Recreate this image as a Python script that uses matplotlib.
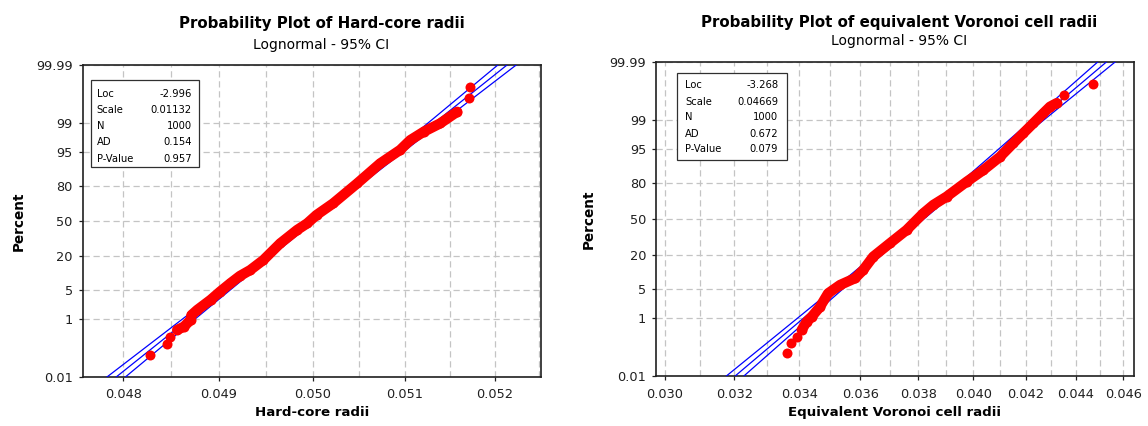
import math
import numpy as np
import matplotlib
matplotlib.use('Agg')
import matplotlib.pyplot as plt
from matplotlib.patches import Rectangle
from matplotlib.ticker import FixedLocator, FixedFormatter, NullFormatter, NullLocator

# Percent axis (normal probability scale)
percent_ticks = [0.01, 1, 5, 20, 50, 80, 95, 99, 99.99]
percent_labels = ['0.01', '1', '5', '20', '50', '80', '95', '99', '99.99']

# Hard-core radii: points (radius, cumulative percent)
hc_percent = [0.07, 0.17, 0.29, 0.47, 0.59, 0.91, 1.25, 1.7, 3.0, 4.6, 6.9, 9.5, 12.1,
              17.6, 29.7, 41.5, 47.8, 55.7, 66.3, 81.5, 91.5, 95.5, 97.3, 98.34, 99.0,
              99.54, 99.83, 99.93]
hc_radius = [0.04828, 0.04845, 0.04849, 0.04856, 0.04863, 0.04870, 0.04871, 0.04877,
             0.04891, 0.04901, 0.04912, 0.04922, 0.04933, 0.04947, 0.04965, 0.04983,
             0.04994, 0.05004, 0.05022, 0.05048, 0.05073, 0.05095, 0.05106, 0.05121,
             0.05139, 0.05158, 0.05171, 0.05172]
hc_xticks = [0.048, 0.049, 0.050, 0.051, 0.052]
hc_xgrid = [0.048, 0.0485, 0.049, 0.0495, 0.050, 0.0505, 0.051, 0.0515, 0.052, 0.0525]
hc_xlim = (0.04758, 0.05252)
hc_loc, hc_scale, hc_n = -2.996, 0.01132, 1000
hc_stat_names = ['Loc', 'Scale', 'N', 'AD', 'P-Value']
hc_stat_values = ['-2.996', '0.01132', '1000', '0.154', '0.957']

# Equivalent Voronoi cell radii
vor_percent = [0.076, 0.174, 0.27, 0.44, 0.77, 1.05, 1.92, 3.96, 5.96, 8.1, 11.4, 18.7,
               28.3, 39.7, 55.3, 63.0, 70.1, 81.1, 87.6, 92.9, 96.3, 97.85, 98.8, 99.37,
               99.6, 99.69, 99.83, 99.93]
vor_radius = [0.03361, 0.03374, 0.03394, 0.03408, 0.03424, 0.03440, 0.03467, 0.03493,
              0.03532, 0.03582, 0.03609, 0.03643, 0.03700, 0.03758, 0.03817, 0.03853,
              0.03901, 0.03975, 0.04037, 0.04100, 0.04151, 0.04190, 0.04229, 0.04269,
              0.04296, 0.04323, 0.04353, 0.04470]
vor_xticks = [0.030, 0.032, 0.034, 0.036, 0.038, 0.040, 0.042, 0.044, 0.046]
vor_xgrid = [0.030, 0.031, 0.032, 0.033, 0.034, 0.035, 0.036, 0.037, 0.038, 0.039,
             0.040, 0.041, 0.042, 0.043, 0.044, 0.045, 0.046]
vor_xlim = (0.02975, 0.04646)
vor_loc, vor_scale, vor_n = -3.268, 0.04669, 1000
vor_stat_names = ['Loc', 'Scale', 'N', 'AD', 'P-Value']
vor_stat_values = ['-3.268', '0.04669', '1000', '0.672', '0.079']

GRID = '#c4c4c4'
FONT = 'DejaVu Sans'


# Inverse standard normal CDF (Acklam's approximation)
def norm_ppf(p):
    p = np.clip(np.asarray(p, dtype=float), 1e-12, 1 - 1e-12)
    a = [-3.969683028665376e+01, 2.209460984245205e+02, -2.759285104469687e+02,
         1.383577518672690e+02, -3.066479806614716e+01, 2.506628277459239e+00]
    b = [-5.447609879822406e+01, 1.615858368580409e+02, -1.556989798598866e+02,
         6.680131188771972e+01, -1.328068155288572e+01]
    c = [-7.784894002430293e-03, -3.223964580411365e-01, -2.400758277161838e+00,
         -2.549671344528710e+00, 4.374664141464968e+00, 2.938163982698783e+00]
    d = [7.784695709041462e-03, 3.224671290700398e-01, 2.445134137142996e+00,
         3.754408661907416e+00]
    plow = 0.02425

    q = np.sqrt(-2 * np.log(p))
    low = (((((c[0]*q + c[1])*q + c[2])*q + c[3])*q + c[4])*q + c[5]) / \
          ((((d[0]*q + d[1])*q + d[2])*q + d[3])*q + 1)
    q = np.sqrt(-2 * np.log(1 - p))
    high = -(((((c[0]*q + c[1])*q + c[2])*q + c[3])*q + c[4])*q + c[5]) / \
           ((((d[0]*q + d[1])*q + d[2])*q + d[3])*q + 1)
    q = p - 0.5
    r = q * q
    mid = (((((a[0]*r + a[1])*r + a[2])*r + a[3])*r + a[4])*r + a[5])*q / \
          (((((b[0]*r + b[1])*r + b[2])*r + b[3])*r + b[4])*r + 1)
    return np.where(p < plow, low, np.where(p > 1 - plow, high, mid))


_erf = np.vectorize(math.erf)


def norm_cdf(z):
    return 0.5 * (1 + _erf(np.asarray(z, dtype=float) / math.sqrt(2)))


def pct_forward(p):
    return norm_ppf(np.asarray(p, dtype=float) / 100)


def pct_inverse(z):
    return norm_cdf(z) * 100


# Draw one probability plot panel
def draw_panel(fig, rect, radius, percent, loc, scale, n, xlim, xticks, xgrid,
               xlabel, stat_names, stat_values, box):
    ax = fig.add_axes(rect)
    ax.set_xscale('log')
    ax.set_yscale('function', functions=(pct_forward, pct_inverse))

    # fitted lognormal line with 95% CI
    z = np.linspace(-4.6, 4.6, 400)
    p = norm_cdf(z) * 100
    half = 1.96 * scale * np.sqrt((1 + z**2 / 2) / n)
    for off in (-half, 0 * half, half):
        ax.plot(np.exp(loc + scale * z + off), p, color='#0000ff', lw=0.9, zorder=3)

    # data points; the dense middle is also joined so it reads as a solid band
    radius = np.array(radius)
    percent = np.array(percent)
    dense = (percent >= 0.4) & (percent <= 99.7)
    ax.plot(radius[dense], percent[dense], color='#ff0000', lw=7.4,
            solid_capstyle='round', solid_joinstyle='round', zorder=4)
    ax.plot(radius, percent, 'o', color='#ff0000', ms=7.2, mec='none', zorder=5)

    ax.set_xlim(*xlim)
    ax.set_ylim(0.01, 99.99)
    ax.xaxis.set_major_locator(FixedLocator(xticks))
    ax.xaxis.set_major_formatter(FixedFormatter(['%.3f' % t for t in xticks]))
    ax.xaxis.set_minor_locator(FixedLocator(xgrid))
    ax.xaxis.set_minor_formatter(NullFormatter())
    ax.yaxis.set_major_locator(FixedLocator(percent_ticks))
    ax.yaxis.set_major_formatter(FixedFormatter(percent_labels))
    ax.yaxis.set_minor_locator(NullLocator())

    ax.tick_params(which='major', direction='out', length=3, width=0.9,
                   labelsize=9.3, pad=4, colors='#202020')
    ax.tick_params(axis='x', which='major', pad=5)
    ax.tick_params(which='minor', length=0)
    ax.grid(True, which='both', axis='x', color=GRID, ls=(0, (5, 3)), lw=0.9)
    ax.grid(True, which='major', axis='y', color=GRID, ls=(0, (5, 3)), lw=0.9)
    ax.set_axisbelow(True)
    for s in ax.spines.values():
        s.set_color('#202020')
        s.set_linewidth(1.2)

    ax.set_xlabel(xlabel, fontsize=9.6, fontweight='bold', va='center')
    ax.xaxis.set_label_coords(0.5, -0.115)
    ax.set_ylabel('Percent', fontsize=9.8, fontweight='bold', va='center')
    ax.yaxis.set_label_coords(-0.14, 0.5)

    # statistics box
    x0, x1, y0, y1, tl, tr, rows = box
    ax.add_patch(Rectangle((x0, y0), x1 - x0, y1 - y0, transform=ax.transAxes,
                           facecolor='white', edgecolor='#303030', lw=0.9, zorder=6))
    for name, val, ty in zip(stat_names, stat_values, rows):
        ax.text(tl, ty, name, transform=ax.transAxes, fontsize=7.2, va='center',
                ha='left', zorder=7)
        ax.text(tr, ty, val, transform=ax.transAxes, fontsize=7.2, va='center',
                ha='right', zorder=7)
    return ax


def main():
    plt.rcParams['font.family'] = [FONT]
    fig = plt.figure(figsize=(11.48, 4.26), dpi=100)

    draw_panel(fig, [0.0719, 0.115, 0.3994, 0.7324], hc_radius, hc_percent,
               hc_loc, hc_scale, hc_n, hc_xlim, hc_xticks, hc_xgrid, 'Hard-core radii',
               hc_stat_names, hc_stat_values,
               (0.0185, 0.254, 0.673, 0.952, 0.031, 0.238,
                [0.9061, 0.8548, 0.8035, 0.7532, 0.6997]))
    draw_panel(fig, [0.5714, 0.1162, 0.4164, 0.7394], vor_radius, vor_percent,
               vor_loc, vor_scale, vor_n, vor_xlim, vor_xticks, vor_xgrid,
               'Equivalent Voronoi cell radii', vor_stat_names, vor_stat_values,
               (0.0446, 0.2734, 0.6873, 0.9625, 0.0607, 0.2559,
                [0.9254, 0.8724, 0.8229, 0.7698, 0.7213]))

    # titles
    fig.text(0.2800, 0.946, 'Probability Plot of Hard-core radii', ha='center',
             va='center', fontsize=10.8, fontweight='bold')
    fig.text(0.2800, 0.894, 'Lognormal - 95% CI', ha='center', va='center', fontsize=10)
    fig.text(0.7830, 0.948, 'Probability Plot of equivalent Voronoi cell radii',
             ha='center', va='center', fontsize=10.8, fontweight='bold')
    fig.text(0.7830, 0.904, 'Lognormal - 95% CI', ha='center', va='center', fontsize=10)

    fig.savefig('out.png', dpi=100, facecolor='white')


if __name__ == "__main__":
    main()
